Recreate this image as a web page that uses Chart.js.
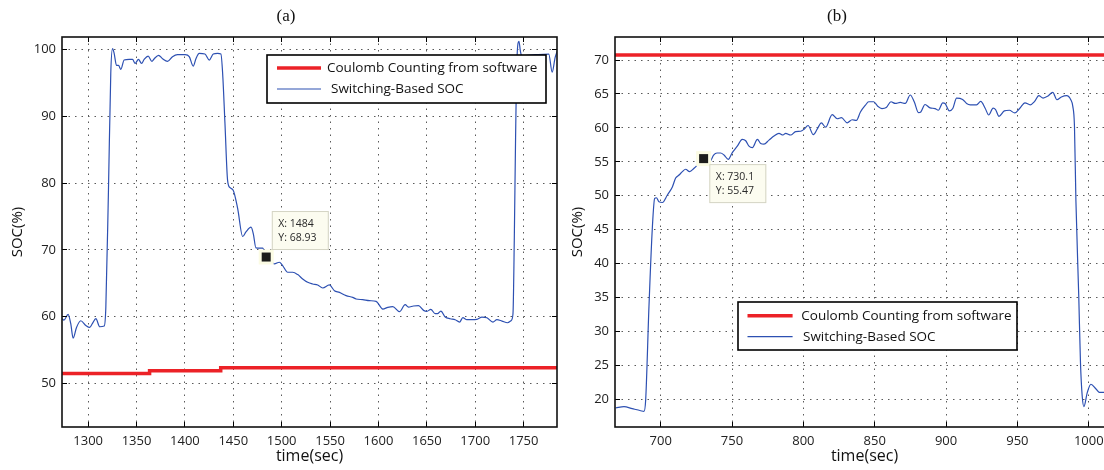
<!DOCTYPE html>
<html>
<head>
<meta charset="utf-8">
<script src="https://cdn.jsdelivr.net/npm/chart.js@4.4.1/dist/chart.umd.min.js"></script>
<style>
  html, body { margin: 0; padding: 0; background: #fff; overflow: hidden; }
  body { width: 1104px; height: 470px; position: relative; }
  canvas { position: absolute; top: 0; }
  #chartA { left: 0; }
  #chartB { left: 560px; }
</style>
</head>
<body>
<canvas id="chartA" width="572" height="470"></canvas>
<canvas id="chartB" width="559" height="470"></canvas>
<script>
'use strict';

// ---------- data (a) ----------
const timeA = [1273, 1275, 1279.3, 1282, 1284.5, 1288, 1292.4, 1297.6, 1301.7, 1304.5, 1308, 1312, 1316.6, 1318.3,
  1321, 1323.4, 1325.2, 1326.9, 1329.3, 1331.4, 1333.8, 1337.2, 1342.4, 1345.9, 1348.6, 1352, 1355.2, 1357.9,
  1362, 1365.9, 1368.3, 1372.8, 1376.9, 1382, 1387.2, 1392.4, 1400.3, 1404.5, 1408.6, 1411.4, 1414.8, 1420.7,
  1425.2, 1429.3, 1433.8, 1437.2, 1439, 1441.4, 1444.1, 1446.6, 1450, 1454.5, 1459.7, 1463.1, 1468.3, 1470.7,
  1473.4, 1480.3, 1484, 1487.2, 1492.4, 1497.6, 1501, 1506.2, 1511.4, 1516.6, 1521.7, 1526.9, 1532, 1537.2,
  1542.4, 1549.3, 1554.5, 1559.7, 1566.6, 1573.4, 1576.9, 1583.8, 1590.7, 1597.6, 1604.5, 1609.7, 1614.8,
  1621.7, 1627.6, 1631, 1636.2, 1641.4, 1646.6, 1650, 1654.1, 1658.6, 1661, 1664.5, 1669, 1674.1, 1679.3,
  1683.8, 1687.2, 1691.4, 1696.6, 1701.7, 1706.9, 1712.1, 1718.3, 1722.4, 1727.6, 1733.4, 1737, 1739,
  1740.4, 1741.7, 1743.2, 1745.2, 1746.6, 1748, 1762, 1776, 1779.5, 1782.6, 1785];
const socA = [59.7, 59.5, 60.35, 59.0, 56.8, 58.4, 59.4, 58.7, 58.4, 59.0, 59.7, 58.5, 58.6, 61.4,
  78.9, 96.4, 100.1, 99.4, 97.6, 97.6, 97.0, 98.4, 98.5, 98.5, 97.9, 98.5, 97.9, 98.5,
  99.0, 98.2, 98.6, 99.1, 98.6, 98.2, 98.9, 99.2, 99.2, 98.9, 97.5, 98.6, 99.4, 99.3,
  98.4, 99.3, 99.4, 99.3, 96.4, 88.9, 80.4, 79.3, 78.9, 76.2, 72.0, 72.7, 73.4, 72.4,
  70.3, 70.25, 68.93, 68.65, 67.9, 68.15, 67.65, 66.65, 66.65, 66.3, 65.65, 65.15, 64.9, 64.75,
  64.3, 64.75, 63.9, 63.65, 63.15, 62.9, 62.65, 62.55, 62.4, 62.3, 61.15, 61.4, 61.5,
  60.75, 61.8, 61.45, 61.6, 61.65, 60.95, 60.8, 61.1, 60.45, 60.45, 60.85, 59.95, 59.7, 59.55,
  59.2, 59.85, 59.55, 59.55, 59.6, 59.95, 59.85, 59.2, 59.55, 59.35, 59.1, 59.4, 60.4,
  71.9, 86.8, 98.8, 101.2, 99.8, 99.05, 99.2, 99.3, 96.6, 98.8, 99.8];
const coulombTimeA = [1273, 1363.5, 1437, 1784.5];
const coulombA = [51.5, 51.9, 52.35, 52.35];
const xTicksA = [1300, 1350, 1400, 1450, 1500, 1550, 1600, 1650, 1700, 1750];
const yTicksA = [50, 60, 70, 80, 90, 100];
const tipA = { x: 1484, y: 68.93 };

// ---------- data (b) ----------
const timeB = [668.5, 674.3, 680.1, 686, 688.3, 689.5, 691.8, 694.2, 695.8, 697, 698.8, 701.2, 704.7, 708.2,
  710.5, 712.9, 715.2, 717.5, 720.3, 723.4, 726.9, 730.1, 734.8, 737.1, 739.5, 742, 744.4, 747.4, 750.2,
  753.7, 757.2, 759.6, 761.9, 764.3, 767.8, 770.1, 772.4, 775.9, 779.4, 782.9, 785.7, 787.6, 791.1, 794.6,
  798.1, 800.5, 803.3, 807, 809.8, 812.6, 815.6, 820.2, 823.7, 826.7, 830.7, 834.2, 837.2, 840, 843.5,
  845.8, 849.3, 852.1, 855.1, 858.1, 861.4, 864.4, 867.9, 871.4, 874.9, 877.7, 880.7, 882.3, 885.3, 888.8,
  892.3, 894.6, 897.7, 899.3, 902.3, 904.7, 907.4, 911.6, 914.4, 917, 921.4, 924.3, 927.4, 929.9, 933,
  934.7, 937.1, 940.8, 944.4, 948.1, 951.7, 955.3, 959, 962.1, 965, 968, 971.1, 974.8, 977.7, 980.8,
  984.5, 987.4, 988.8, 990, 991, 993, 994.2, 995.4, 996.6, 999, 1001.5, 1005.1, 1007.5, 1010.7];
const socB = [18.7, 18.9, 18.6, 18.3, 18.2, 19.9, 33.65, 45.4, 49.6, 49.7, 49.1, 49.0, 50.1, 51.3,
  52.6, 53.05, 53.55, 53.9, 53.55, 54.05, 54.8, 55.47, 55.15, 56.0, 56.3, 56.3, 56.0, 55.35, 56.35,
  57.3, 58.3, 58.1, 57.3, 57.1, 58.3, 57.7, 57.6, 58.2, 58.8, 59.2, 58.95, 59.2, 58.95, 59.45,
  59.5, 59.8, 60.35, 59.0, 59.85, 60.75, 60.1, 61.95, 61.35, 61.5, 60.75, 61.2, 61.1, 62.35, 63.35,
  63.85, 63.85, 63.2, 62.85, 63.0, 63.85, 63.6, 63.75, 63.6, 64.85, 63.85, 62.25, 62.35, 63.45, 62.95,
  62.85, 62.6, 63.7, 63.6, 62.5, 62.85, 64.4, 64.2, 63.6, 63.4, 63.4, 63.9, 62.9, 61.9, 62.9,
  62.7, 61.7, 62.5, 62.6, 62.2, 62.9, 63.7, 63.4, 63.9, 64.75, 64.4, 64.65, 65.25, 64.15, 64.55,
  64.75, 64.15, 63.2, 60.2, 49.3, 35.2, 25.4, 20.5, 18.9, 21.0, 22.2, 21.5, 21.0, 21.0];
const coulombTimeB = [668, 1017.7];
const coulombB = [70.75, 70.75];
const xTicksB = [700, 750, 800, 850, 900, 950, 1000];
const yTicksB = [20, 25, 30, 35, 40, 45, 50, 55, 60, 65, 70];
const tipB = { x: 730.1, y: 55.47 };

const LABEL_CC = 'Coulomb Counting from software';
const LABEL_SW = 'Switching-Based SOC';
const RED = '#ec2227', BLUE = '#2d50b2';
const SANS = '"Open Sans", "Noto Sans", sans-serif';

const pts = (xs, ys) => xs.map((x, i) => ({ x, y: ys[i] }));
const alignPx = (p) => Math.round(p - 0.5) + 0.5;

// ---------- MATLAB風の枠・目盛・凡例・データチップ ----------
const matlabAxes = {
  id: 'matlabAxes',
  afterDatasetsDraw(chart, args, o) {
    const c = chart.ctx, a = chart.chartArea, xs = chart.scales.x, ys = chart.scales.y;
    c.save();

    // データチップ
    const mx = xs.getPixelForValue(o.tip.x), my = ys.getPixelForValue(o.tip.y);
    c.fillStyle = '#fbfbe4';
    c.fillRect(mx - 7.5, my - 7.5, 15, 15);
    c.fillStyle = '#1c1c1c';
    c.fillRect(mx - 4.5, my - 4.5, 9, 9);
    const bx = mx + o.tip.dx, by = my + o.tip.dy;
    c.fillStyle = '#fcfcf0';
    c.strokeStyle = '#d4d4c4'; c.lineWidth = 1;
    c.fillRect(bx, by, 57, 39);
    c.strokeRect(bx + 0.5, by + 0.5, 56, 38);
    c.fillStyle = '#2a2a2a';
    c.font = '10.5px ' + SANS;
    c.textBaseline = 'middle'; c.textAlign = 'left';
    c.fillText('X: ' + o.tip.x, bx + 6.5, by + 12.5);
    c.fillText('Y: ' + o.tip.y, bx + 6.5, by + 27);

    // 凡例
    const L = o.legend;
    c.fillStyle = '#fff';
    c.fillRect(L.left, L.top, L.width, L.height);
    c.strokeStyle = '#000'; c.lineWidth = 1.6;
    c.strokeRect(L.left, L.top, L.width, L.height);
    c.font = '13.5px ' + SANS;
    c.fillStyle = '#111';
    chart.data.datasets.forEach((ds, i) => {
      const row = L.rows[i];
      c.strokeStyle = ds.borderColor; c.lineWidth = ds.borderWidth;
      c.beginPath();
      c.moveTo(L.left + L.lineX0, L.top + row.y);
      c.lineTo(L.left + L.lineX1, L.top + row.y);
      c.stroke();
      c.fillText(ds.label, L.left + row.textX, L.top + row.y);
    });

    // 内向き目盛
    c.strokeStyle = '#000'; c.lineWidth = 1;
    c.beginPath();
    xs.ticks.forEach(t => {
      const p = alignPx(xs.getPixelForValue(t.value));
      c.moveTo(p, a.bottom); c.lineTo(p, a.bottom - 5);
      c.moveTo(p, a.top); c.lineTo(p, a.top + 5);
    });
    ys.ticks.forEach(t => {
      const p = alignPx(ys.getPixelForValue(t.value));
      c.moveTo(a.left, p); c.lineTo(a.left + 5, p);
      c.moveTo(a.right, p); c.lineTo(a.right - 5, p);
    });
    c.stroke();

    // 枠
    c.lineWidth = 1.6; c.strokeStyle = '#111';
    c.strokeRect(a.left, a.top, a.right - a.left, a.bottom - a.top);
    c.restore();
  }
};

function makeChart(id, cfg) {
  const xScale = {
    type: 'linear', min: cfg.xMin, max: cfg.xMax,
    afterBuildTicks: (s) => { s.ticks = cfg.xTicks.map(v => ({ value: v })); },
    afterFit: (s) => { s.height = 43; },
    grid: { color: '#5a5a5a', lineWidth: 1, drawTicks: false },
    border: { display: false, dash: [1.5, 5] },
    ticks: { padding: 6, color: '#222', font: { family: SANS, size: 13 }, maxRotation: 0,
      callback: (v) => String(v) },
    title: { display: true, text: 'time(sec)', color: '#111', padding: { top: 0, bottom: 4.4 },
      font: { family: SANS, size: 16 } }
  };
  const yScale = {
    type: 'linear', min: cfg.yMin, max: cfg.yMax,
    afterBuildTicks: (s) => { s.ticks = cfg.yTicks.map(v => ({ value: v })); },
    afterFit: (s) => { s.width = cfg.yWidth; },
    grid: { color: '#5a5a5a', lineWidth: 1, drawTicks: false },
    border: { display: false, dash: [1.5, 5] },
    ticks: { padding: 6, color: '#222', font: { family: SANS, size: 13 }, callback: (v) => String(v) },
    title: { display: true, text: 'SOC(%)', color: '#111', padding: { top: cfg.yTitlePad, bottom: 0 },
      font: { family: SANS, size: 15 } }
  };
  return new Chart(document.getElementById(id), {
    type: 'line',
    data: {
      datasets: [
        { label: LABEL_CC, data: pts(cfg.ccTime, cfg.cc), borderColor: RED, borderWidth: 3.5,
          pointRadius: 0, stepped: cfg.stepped, order: 1 },
        { label: LABEL_SW, data: pts(cfg.time, cfg.soc), borderColor: BLUE, borderWidth: 1.2,
          pointRadius: 0, cubicInterpolationMode: 'monotone', order: 2 }
      ]
    },
    options: {
      responsive: false, animation: false, events: [],
      devicePixelRatio: 1,
      layout: { padding: { left: cfg.padLeft, right: cfg.padRight, top: 0, bottom: 0 } },
      plugins: {
        legend: { display: false }, tooltip: { enabled: false },
        title: { display: true, text: cfg.title, color: '#111', padding: { top: 6, bottom: 10.6 },
          font: { family: '"Liberation Serif", "DejaVu Serif", serif', size: 17, weight: 'normal', lineHeight: 1.2 } },
        matlabAxes: { tip: cfg.tip, legend: cfg.legend }
      },
      scales: { x: xScale, y: yScale }
    },
    plugins: [matlabAxes]
  });
}

makeChart('chartA', {
  title: '(a)', xMin: 1273, xMax: 1784.5, yMin: 43.5, yMax: 101.85,
  xTicks: xTicksA, yTicks: yTicksA, yWidth: 47, yTitlePad: -6.2, padLeft: 15, padRight: 15,
  time: timeA, soc: socA, ccTime: coulombTimeA, cc: coulombA, stepped: 'before',
  tip: { x: tipA.x, y: tipA.y, dx: 5.6, dy: -46 },
  legend: { left: 267, top: 55, width: 279, height: 48, lineX0: 10, lineX1: 54,
    rows: [{ y: 13, textX: 60 }, { y: 34, textX: 64 }] }
});

makeChart('chartB', {
  title: '(b)', xMin: 668, xMax: 1017.7, yMin: 15.9, yMax: 73.4,
  xTicks: xTicksB, yTicks: yTicksB, yWidth: 55, yTitlePad: 8.4, padLeft: 0, padRight: 5,
  time: timeB, soc: socB, ccTime: coulombTimeB, cc: coulombB, stepped: false,
  tip: { x: tipB.x, y: tipB.y, dx: 5.7, dy: 5.5 },
  legend: { left: 178, top: 302, width: 279, height: 48, lineX0: 9.5, lineX1: 54.6,
    rows: [{ y: 13.7, textX: 63.3 }, { y: 34.7, textX: 65 }] }
});
</script>
</body>
</html>
